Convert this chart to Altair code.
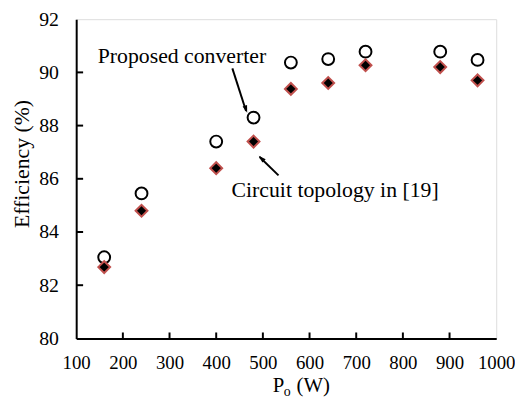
import altair as alt
import pandas as pd

power = [160, 240, 400, 480, 560, 640, 720, 880, 960]
proposed = [83.05, 85.45, 87.4, 88.3, 90.37, 90.5, 90.78, 90.78, 90.47]
topology = [82.68, 84.8, 86.4, 87.4, 89.38, 89.6, 90.27, 90.2, 89.7]

x_ticks = [100, 200, 300, 400, 500, 600, 700, 800, 900, 1000]
y_ticks = [80, 82, 84, 86, 88, 90, 92]

labels = ["Proposed converter", "Circuit topology in [19]"]
label_x = [326.6, 654.8]
label_y = [90.34, 85.32]

arrow_id = [0, 0, 1, 1]
arrow_x = [434.6, 464.0, 533.5, 493.0]
arrow_y = [90.15, 88.55, 86.13, 86.82]
head_x = [466.4, 491.1]
head_y = [88.48, 86.87]
head_angle = [161.6, 315.0]

x_title_parts = ["P", "o", "(W)"]
x_title_sizes = [21, 14, 21]

FONT = "Liberation Serif"

df_p = pd.DataFrame({"x": power, "y": proposed})
df_t = pd.DataFrame({"x": power, "y": topology})
df_lab = pd.DataFrame({"x": label_x, "y": label_y, "t": labels})
df_arr = pd.DataFrame({"id": arrow_id, "x": arrow_x, "y": arrow_y})
df_head = pd.DataFrame({"x": head_x, "y": head_y, "a": head_angle})
df_xt = pd.DataFrame({"x": x_ticks[1:-1]})
df_yt = pd.DataFrame({"y": y_ticks[1:-1]})

xs = alt.Scale(domain=[100, 1000], nice=False, zero=False)
ys = alt.Scale(domain=[80, 92], nice=False, zero=False)

x_axis = alt.Axis(values=x_ticks, format="d", tickSize=0, labelPadding=15,
                  labelFont=FONT, labelFontSize=19, labelColor="black",
                  domainColor="black", labelOverlap=False, labelFlush=False,
                  domainWidth=2, grid=False, title=None)
y_axis = alt.Axis(values=y_ticks, tickSize=0, labelPadding=18, labelFont=FONT,
                  labelFontSize=20, labelColor="black", domainColor="black",
                  labelOverlap=False, labelFlush=False,
                  domainWidth=2, grid=False, title="Efficiency (%)", titleFont=FONT,
                  titleFontSize=22, titleFontWeight="normal", titleColor="black",
                  titleX=-55, titleY=146, titleAngle=270, titleBaseline="middle",
                  titleAlign="center")

X = alt.X("x:Q", scale=xs, axis=x_axis)
Y = alt.Y("y:Q", scale=ys, axis=y_axis)

circles = alt.Chart(df_p).mark_point(
    shape="circle", size=144, filled=False, stroke="black", strokeWidth=2, opacity=1
).encode(x=X, y=Y)

diamonds = alt.Chart(df_t).mark_point(
    shape="diamond", size=144, filled=True, fill="black", stroke="#c0504d",
    strokeWidth=2, opacity=1
).encode(x=X, y=Y)

xt = alt.Chart(df_xt).mark_rule(color="black", strokeWidth=2).encode(
    x=X, y=alt.value(323), y2=alt.value(317))
yt = alt.Chart(df_yt).mark_rule(color="black", strokeWidth=2).encode(
    y=Y, x=alt.value(0), x2=alt.value(7))

texts = alt.Chart(df_lab).mark_text(font=FONT, fontSize=22, color="black",
                                    baseline="alphabetic").encode(
    x=X, y=Y, text="t:N")

lines = alt.Chart(df_arr).mark_line(color="black", strokeWidth=2).encode(
    x=X, y=Y, detail="id:N")

heads = alt.Chart(df_head).mark_point(
    shape="M0,0L-0.5,1.6L0.5,1.6Z", size=90, filled=True, color="black", opacity=1
).encode(x=X, y=Y, angle=alt.Angle("a:Q", scale=None))

t_p = alt.Chart(pd.DataFrame({"t": [x_title_parts[0]]})).mark_text(
    font=FONT, fontSize=x_title_sizes[0], color="black", align="left",
    baseline="alphabetic").encode(text="t:N", x=alt.value(199), y=alt.value(377))
t_o = alt.Chart(pd.DataFrame({"t": [x_title_parts[1]]})).mark_text(
    font=FONT, fontSize=x_title_sizes[1], color="black", align="left",
    baseline="alphabetic").encode(text="t:N", x=alt.value(210), y=alt.value(381))
t_w = alt.Chart(pd.DataFrame({"t": [x_title_parts[2]]})).mark_text(
    font=FONT, fontSize=x_title_sizes[2], color="black", align="left",
    baseline="alphabetic").encode(text="t:N", x=alt.value(223), y=alt.value(377))

chart = alt.layer(circles, diamonds, xt, yt, lines, heads, texts, t_p, t_o, t_w).properties(
    width=425, height=323,
    autosize=alt.AutoSizeParams(type="none"),
    padding={"left": 69, "top": 9, "right": 19, "bottom": 60},
).configure_view(stroke="black", strokeWidth=2).configure(background="white")

chart.save("out.html", embed_options={"renderer": "svg", "actions": False})
